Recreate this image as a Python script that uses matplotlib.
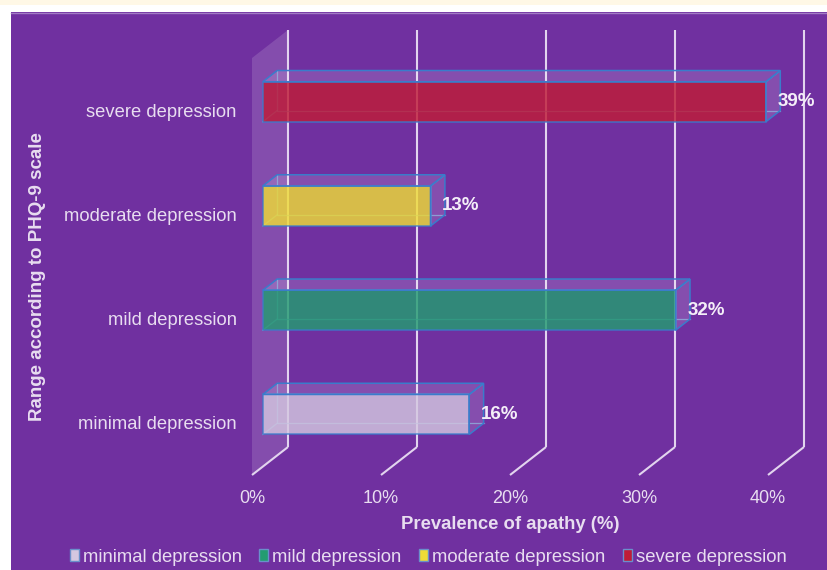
import matplotlib
matplotlib.use("Agg")
import matplotlib.pyplot as plt
from matplotlib.patches import Polygon, Rectangle, Patch

# ---- data ----
categories = ["minimal depression", "mild depression", "moderate depression", "severe depression"]
prevalence = [16, 32, 13, 39]
bar_colors = ["#D4C7E0", "#239C71", "#EFDC36", "#BF1C37"]
x_ticks = [0, 10, 20, 30, 40]
x_tick_labels = ["0%", "10%", "20%", "30%", "40%"]
x_title = "Prevalence of apathy (%)"
y_title = "Range according to PHQ-9 scale"

# ---- style ----
plt.rcParams["font.family"] = ["Liberation Sans", "DejaVu Sans"]
PANEL = "#7030A0"
TEXT = "#E8DDF0"
GRID = "#E2D4EE"
EDGE = "#3A7CCB"

W, H = 827, 570
fig = plt.figure(figsize=(W / 100, H / 100), dpi=100, facecolor="white")

# page background: cream strip on top, purple panel
fig.patches.append(Rectangle((0, 1 - 5 / H), 1, 5 / H, transform=fig.transFigure,
                             facecolor="#FFF8E6", edgecolor="none", zorder=-10))
fig.patches.append(Rectangle((11 / W, 0), 1 - 11 / W, 1 - 12 / H, transform=fig.transFigure,
                             facecolor=PANEL, edgecolor="none", zorder=-9))
fig.lines.append(plt.Line2D([11 / W, 1], [1 - 12.5 / H, 1 - 12.5 / H], transform=fig.transFigure,
                            color="#A27BC4", lw=1.0, zorder=-8))

# front plane of the plot box
left_px, right_px, top_px, bottom_px = 252, 768, 58, 475
ax = fig.add_axes([left_px / W, 1 - bottom_px / H, (right_px - left_px) / W, (bottom_px - top_px) / H])
ax.set_xlim(0, 40)
ax.set_ylim(0, len(categories))
ax.patch.set_visible(False)
for s in ax.spines.values():
    s.set_visible(False)

px_per_x = (right_px - left_px) / 40.0
px_per_y = (bottom_px - top_px) / len(categories)
DX = 36 / px_per_x          # depth shift along x (data units)
DY = 28 / px_per_y          # depth shift along y (data units)
ymax = len(categories)

# side wall
ax.add_patch(Polygon([(0, 0), (DX, DY), (DX, ymax + DY), (0, ymax)], closed=True,
                     facecolor="white", alpha=0.14, edgecolor="none", zorder=1, clip_on=False))

# back wall gridlines and floor diagonals
for t in x_ticks:
    ax.plot([t + DX, t + DX], [DY, ymax + DY], color=GRID, lw=1.5, zorder=2, clip_on=False,
            solid_capstyle="butt")
    ax.plot([t, t + DX], [0, DY], color=GRID, lw=1.5, zorder=2, clip_on=False,
            solid_capstyle="butt")

# 3-D bars
z0, z1 = 0.3, 0.7
bh = 40 / px_per_y
ddx, ddy = (z1 - z0) * DX, (z1 - z0) * DY
centers = [i + 0.5 for i in range(len(categories))]
front_y = [c + z0 * DY for c in centers]

for v, yc in zip(prevalence, front_y):
    x0, x1 = z0 * DX, v + z0 * DX
    yb, yt = yc - bh / 2, yc + bh / 2
    # hidden edges of the translucent box
    ax.plot([x0 + ddx, x0 + ddx, x1 + ddx], [yt + ddy, yb + ddy, yb + ddy],
            color="#7FB3E0", lw=0.9, alpha=0.7, zorder=3, clip_on=False)
    ax.plot([x0, x0 + ddx], [yb, yb + ddy], color="#7FB3E0", lw=0.9, alpha=0.7,
            zorder=3, clip_on=False)

ax.barh(front_y, prevalence, left=z0 * DX, height=bh, color=bar_colors, alpha=0.82,
        edgecolor=EDGE, linewidth=1.1, zorder=4, clip_on=False)

for v, yc in zip(prevalence, front_y):
    x0, x1 = z0 * DX, v + z0 * DX
    yb, yt = yc - bh / 2, yc + bh / 2
    top = [(x0, yt), (x1, yt), (x1 + ddx, yt + ddy), (x0 + ddx, yt + ddy)]
    side = [(x1, yb), (x1 + ddx, yb + ddy), (x1 + ddx, yt + ddy), (x1, yt)]
    for poly in (top, side):
        ax.add_patch(Polygon(poly, closed=True, facecolor=(1, 1, 1, 0.15),
                             edgecolor=EDGE, linewidth=1.1, zorder=5, clip_on=False))
    ax.text(x1 + 0.9, yc, f"{v}%", ha="left", va="center", fontsize=13.5,
            fontweight="bold", color="#F4EEF8", zorder=6)

# axes labels and ticks
ax.set_xticks(x_ticks)
ax.set_xticklabels(x_tick_labels)
ax.set_yticks(centers)
ax.set_yticklabels(categories)
ax.tick_params(axis="x", length=0, pad=11, labelsize=13, labelcolor=TEXT)
ax.tick_params(axis="y", length=0, pad=11, labelsize=13.2, labelcolor=TEXT)
ax.set_xlabel(x_title, fontsize=13.3, fontweight="bold", color=TEXT, labelpad=6)
fig.text(38 / W, 1 - 277 / H, y_title, rotation=90, ha="center", va="center",
         fontsize=13.5, fontweight="bold", color=TEXT)

# legend
handles = [Patch(facecolor=c, edgecolor="#6A8FCB", linewidth=1.0) for c in bar_colors]
leg = fig.legend(handles, categories, loc="center", bbox_to_anchor=(428 / W, 1 - 557 / H),
                 ncol=4, frameon=False, fontsize=13.3, handlelength=0.5, handleheight=0.55,
                 handletextpad=0.2, columnspacing=0.95, borderpad=0, borderaxespad=0)
for t in leg.get_texts():
    t.set_color(TEXT)

fig.savefig("out.png", dpi=100, facecolor=fig.get_facecolor())
